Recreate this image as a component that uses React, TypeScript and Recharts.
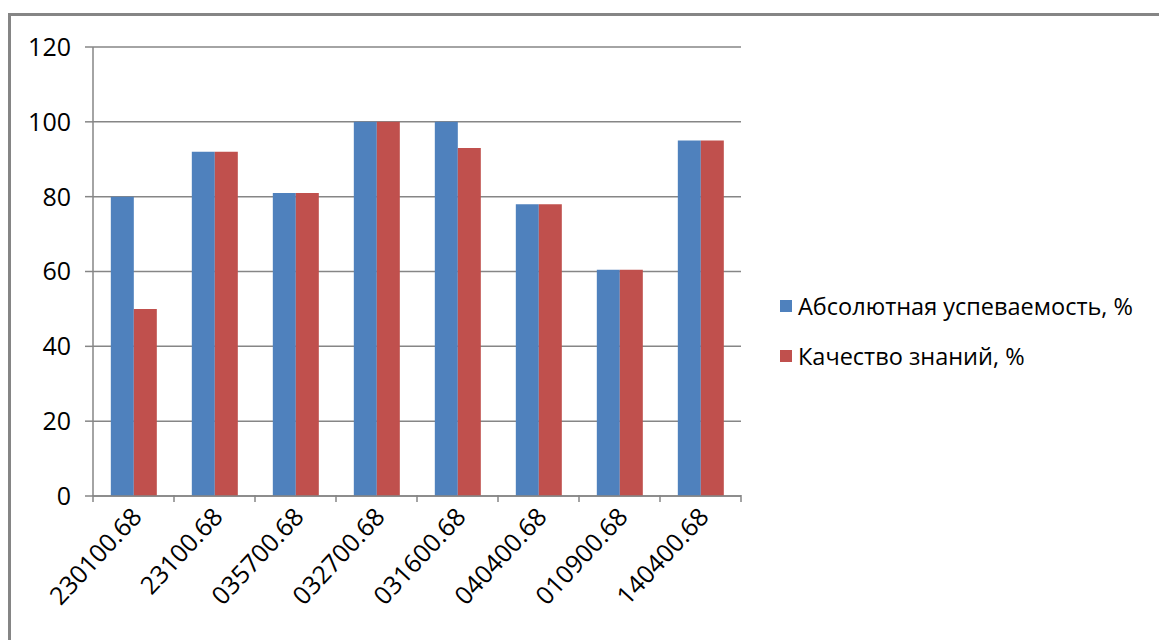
import React from "react";
import {
  BarChart,
  Bar,
  XAxis,
  YAxis,
  CartesianGrid,
  Legend,
} from "recharts";

const specialties = [
  "230100.68",
  "23100.68",
  "035700.68",
  "032700.68",
  "031600.68",
  "040400.68",
  "010900.68",
  "140400.68",
];
const absoluteProgress = [80, 92, 81, 100, 100, 78, 60.5, 95];
const knowledgeQuality = [50, 92, 81, 100, 93, 78, 60.5, 95];
const yTicks = [0, 20, 40, 60, 80, 100, 120];

const seriesNames = ["Абсолютная успеваемость, %", "Качество знаний, %"];
const colors = ["#4F81BD", "#C0504D"];

const data = specialties.map((name, i) => ({
  name,
  abs: absoluteProgress[i],
  quality: knowledgeQuality[i],
}));

const FONT = "'Open Sans', sans-serif";
const AXIS = "#868686";

// category label plus the small tick marks at the category borders
const XTick = (props: any) => {
  const { x, y, payload, index, width, visibleTicksCount } = props;
  const half =
    payload && payload.offset ? payload.offset : width / visibleTicksCount / 2;
  const isLast = index === visibleTicksCount - 1;
  return (
    <g>
      <line
        x1={x - half}
        x2={x - half}
        y1={y - 1}
        y2={y + 6}
        stroke={AXIS}
        strokeWidth={1.5}
      />
      {isLast && (
        <line
          x1={x + half}
          x2={x + half}
          y1={y - 1}
          y2={y + 6}
          stroke={AXIS}
          strokeWidth={1.5}
        />
      )}
      <g transform={`translate(${x - 3},${y + 10}) rotate(-47)`}>
        <text
          x={0}
          y={0}
          textAnchor="end"
          dy="0.7em"
          fontFamily={FONT}
          fontSize={25}
          fill="#000"
        >
          {payload.value}
        </text>
      </g>
    </g>
  );
};

const LegendContent = () => (
  <div style={{ fontFamily: FONT, fontSize: 23.5, color: "#000" }}>
    {seriesNames.map((n, i) => (
      <div
        key={n}
        style={{ display: "flex", alignItems: "center", height: 50 }}
      >
        <span
          style={{
            display: "inline-block",
            width: 12,
            height: 12,
            background: colors[i],
            marginRight: 6,
          }}
        />
        <span>{n}</span>
      </div>
    ))}
  </div>
);

export default function App() {
  return (
    <div
      style={{
        position: "fixed",
        left: 0,
        top: 0,
        width: 1159,
        height: 640,
        overflow: "hidden",
        background: "#fff",
      }}
    >
      <div
        style={{
          position: "absolute",
          left: 8,
          top: 13,
          width: 1200,
          height: 700,
          border: "3px solid #858585",
        }}
      />
      <div style={{ position: "absolute", left: 0, top: 0 }}>
        <BarChart
          width={1159}
          height={640}
          data={data}
          margin={{ top: 47, right: 418, bottom: 143, left: 8 }}
          barCategoryGap="22%"
          barGap={0}
        >
          <CartesianGrid vertical={false} stroke={AXIS} strokeWidth={1.5} />
          <XAxis
            dataKey="name"
            height={1}
            interval={0}
            tick={<XTick />}
            tickLine={false}
            tickSize={0}
            tickMargin={0}
            axisLine={{ stroke: AXIS, strokeWidth: 1.5 }}
          />
          <YAxis
            domain={[0, 120]}
            ticks={yTicks}
            width={85}
            tickSize={8}
            tickMargin={14}
            axisLine={{ stroke: AXIS, strokeWidth: 1.5 }}
            tickLine={{ stroke: AXIS, strokeWidth: 1.5 }}
            tick={{ fontFamily: FONT, fontSize: 25, fill: "#000" }}
          />
          <Legend
            layout="vertical"
            align="center"
            verticalAlign="middle"
            content={<LegendContent />}
            wrapperStyle={{ left: 780, top: 281, width: 378 }}
          />
          <Bar
            dataKey="abs"
            name={seriesNames[0]}
            fill={colors[0]}
            isAnimationActive={false}
          />
          <Bar
            dataKey="quality"
            name={seriesNames[1]}
            fill={colors[1]}
            isAnimationActive={false}
          />
        </BarChart>
      </div>
    </div>
  );
}
